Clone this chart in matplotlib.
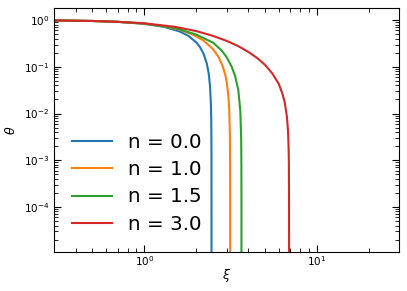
import matplotlib
matplotlib.use("Agg")
import matplotlib.pyplot as plt

# values (log-log axes)
xi_n0 = [0.3, 0.5, 0.7, 1.0, 1.3, 1.6, 1.8, 2.0, 2.1, 2.2, 2.3, 2.36, 2.4, 2.43, 2.44, 2.446, 2.448, 2.4494, 2.44948]
th_n0 = [0.985, 0.958, 0.918, 0.833, 0.718, 0.573, 0.46, 0.333, 0.265, 0.193, 0.118, 0.072, 0.040, 0.0158, 0.0079, 0.0029, 0.0012, 0.00007, 0.000001]

xi_n1 = [0.3, 0.5, 0.7, 1.0, 1.3, 1.6, 1.9, 2.2, 2.5, 2.7, 2.85, 2.95, 3.0, 3.06, 3.1, 3.13, 3.14, 3.1415, 3.14159]
th_n1 = [0.985, 0.959, 0.920, 0.841, 0.741, 0.625, 0.497, 0.367, 0.239, 0.159, 0.101, 0.065, 0.047, 0.026, 0.0133, 0.0037, 0.00051, 0.00003, 0.0000008]

xi_n15 = [0.3, 0.5, 0.7, 1.0, 1.5, 2.0, 2.5, 2.8, 3.0, 3.2, 3.35, 3.5, 3.6, 3.64, 3.65, 3.6535, 3.65375]
th_n15 = [0.985, 0.959, 0.921, 0.845, 0.681, 0.490, 0.330, 0.225, 0.160, 0.102, 0.065, 0.0326, 0.0111, 0.0028, 0.00076, 0.00005, 0.0000005]

xi_n3 = [0.3, 0.5, 0.7, 1.0, 1.5, 2.0, 2.5, 3.0, 3.5, 4.0, 4.5, 5.0, 5.5, 6.0, 6.3, 6.5, 6.7, 6.8, 6.86, 6.88, 6.895, 6.8968]
th_n3 = [0.985, 0.960, 0.922, 0.856, 0.720, 0.583, 0.460, 0.359, 0.278, 0.209, 0.155, 0.1105, 0.073, 0.0437, 0.027, 0.0178, 0.0085, 0.0042, 0.0016, 0.00072, 0.000076, 0.0000005]

series = [(xi_n0, th_n0, "n = 0.0"), (xi_n1, th_n1, "n = 1.0"),
          (xi_n15, th_n15, "n = 1.5"), (xi_n3, th_n3, "n = 3.0")]

fig, ax = plt.subplots(figsize=(4.07, 2.91), dpi=100)
fig.subplots_adjust(left=0.133, right=0.981, top=0.971, bottom=0.135)

for xs, ys, lab in series:
    ax.plot(xs, ys, lw=1.5, label=lab)

ax.set_xscale("log")
ax.set_yscale("log")
ax.set_xlim(0.3, 30)
ax.set_ylim(1.1e-5, 1.78)

ax.tick_params(which="both", direction="in", top=True, right=True, labelsize=7.5)
ax.tick_params(axis="x", which="both", pad=2)
ax.tick_params(which="major", length=5)
ax.tick_params(which="minor", length=3)

ax.set_xlabel(r"$\xi$", fontsize=9, labelpad=-1)
ax.set_ylabel(r"$\theta$", fontsize=9)

ax.legend(loc="lower left", fontsize=14.3, frameon=False, labelspacing=0.42)

fig.savefig("out.png", dpi=100)
